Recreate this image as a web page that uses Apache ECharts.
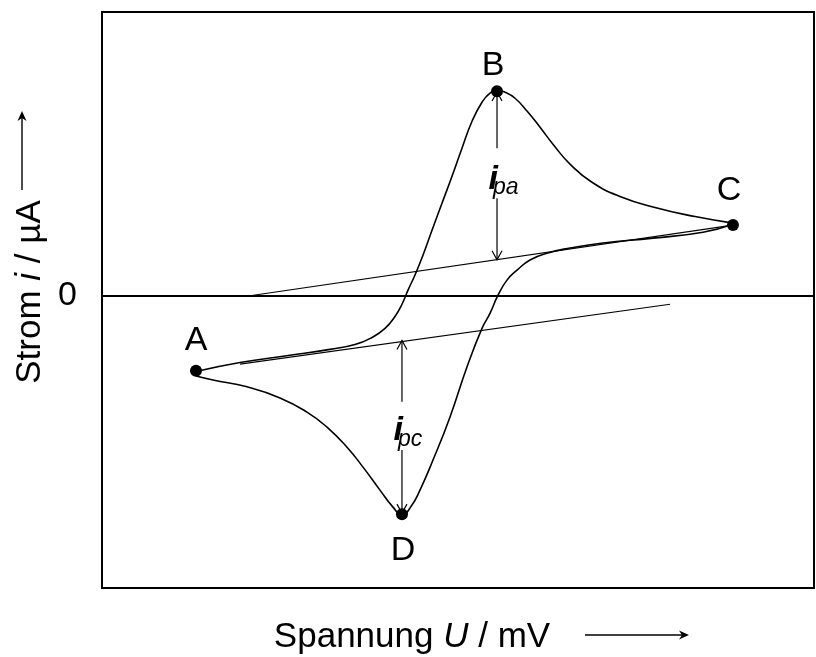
<!DOCTYPE html>
<html>
<head>
<meta charset="utf-8">
<script src="https://cdn.jsdelivr.net/npm/echarts@6/dist/echarts.min.js"></script>
<style>
  html, body { margin: 0; padding: 0; background: #fff; }
  #chart { width: 816px; height: 657px; }
</style>
</head>
<body>
<div id="chart"></div>
<script>
// Cyclic voltammogram: forward (anodic) scan A -> B -> C, reverse (cathodic) scan C -> D -> A
const fwdU = [132.0, 193.8, 264.0, 320.2, 355.3, 379.2, 397.5, 411.5, 421.3, 429.8, 439.6, 450.8, 463.5, 477.5, 491.6, 505.6, 519.7, 533.7, 544.9, 554.8, 566.0, 580.1, 596.9, 615.2, 633.4, 657.3, 688.2, 727.5, 776.7, 832.9, 886.2];
const fwdI = [-26.7, -23.5, -21.0, -18.9, -17.2, -14.7, -11.5, -7.3, -3.0, 2.0, 7.3, 14.3, 23.1, 32.6, 42.1, 52.0, 61.5, 68.2, 71.4, 72.4, 71.7, 69.6, 65.1, 59.4, 53.4, 46.4, 40.0, 35.0, 31.1, 27.9, 25.6];

const revU = [886.2, 844.1, 773.9, 703.7, 657.3, 625.0, 601.1, 582.9, 568.8, 556.2, 544.9, 533.7, 512.6, 488.8, 464.9, 446.6, 434.0, 421.3, 408.7, 390.4, 366.6, 344.1, 316.0, 287.9, 250.0, 203.7, 155.9, 132.0];
const revI = [25.2, 22.4, 20.3, 18.6, 16.8, 15.0, 12.6, 9.0, 5.5, 0.2, -6.2, -11.5, -25.1, -42.7, -57.9, -68.5, -74.3, -77.3, -74.5, -68.5, -60.4, -53.4, -46.3, -41.0, -36.0, -32.1, -29.7, -28.3];

// Marked points
const pointNames = ['A', 'B', 'C', 'D'];
const pointU = [132.0, 554.8, 886.2, 421.3];
const pointI = [-26.4, 72.1, 24.9, -77.0];

// Extrapolated baselines for the two peaks
const baseAnodicU = [207.9, 886.2];
const baseAnodicI = [0.0, 24.9];
const baseCathodicU = [193.8, 797.8];
const baseCathodicI = [-24.1, -3.0];

// Peak current arrows: position, ends, label gap
const peakNames = ['pa', 'pc'];
const peakU = [554.8, 421.3];
const peakTop = [71.8, -15.8];
const peakBottom = [12.7, -76.6];
const peakGapTop = [52.0, -37.4];
const peakGapBottom = [34.4, -54.4];

const zeroTicks = [0];

const FONT = '"Liberation Sans", Arial, Helvetica, sans-serif';
const FS = 34;
const TITLE_FS = 35;

const zip = (a, b) => a.map((v, i) => [v, b[i]]);

const chart = echarts.init(document.getElementById('chart'), null, { renderer: 'canvas' });

const curveStyle = { color: '#000', width: 1.6 };
const thinStyle = { color: '#000', width: 1.1 };

const option = {
  animation: false,
  backgroundColor: '#fff',
  grid: {
    left: 102, top: 12, width: 712, height: 576,
    show: true, borderColor: '#000', borderWidth: 2, backgroundColor: 'transparent'
  },
  xAxis: {
    type: 'value', min: 0, max: 1000,
    axisLine: { show: false }, axisTick: { show: false },
    axisLabel: { show: false }, splitLine: { show: false }
  },
  yAxis: {
    type: 'value', min: -103, max: 100,
    axisLine: { show: false }, axisTick: { show: false },
    axisLabel: { show: false }, splitLine: { show: false }
  },
  series: [
    {
      name: 'forward', type: 'line', data: zip(fwdU, fwdI),
      smooth: 0.5, showSymbol: false, lineStyle: curveStyle, silent: true,
      markLine: {
        silent: true, symbol: ['none', 'none'],
        lineStyle: { color: '#000', width: 2, type: 'solid' },
        label: {
          show: true, position: 'start', distance: 25,
          formatter: p => String(p.value),
          fontFamily: FONT, fontSize: FS, color: '#000'
        },
        data: zeroTicks.map(v => ({ yAxis: v }))
      }
    },
    {
      name: 'reverse', type: 'line', data: zip(revU, revI),
      smooth: 0.5, showSymbol: false, lineStyle: curveStyle, silent: true
    },
    {
      name: 'baseAnodic', type: 'line', data: zip(baseAnodicU, baseAnodicI),
      showSymbol: false, lineStyle: thinStyle, silent: true
    },
    {
      name: 'baseCathodic', type: 'line', data: zip(baseCathodicU, baseCathodicI),
      showSymbol: false, lineStyle: thinStyle, silent: true
    },
    {
      name: 'points', type: 'scatter', symbolSize: 12, z: 5,
      itemStyle: { color: '#000', opacity: 1 },
      label: {
        show: true, position: 'inside', color: '#000',
        fontFamily: FONT, fontSize: FS,
        formatter: p => p.data.name
      },
      data: pointNames.map((n, i) => {
        const offsets = { A: [0, -30], B: [-4, -26], C: [-4, -34], D: [1, 36] };
        return { name: n, value: [pointU[i], pointI[i]], label: { offset: offsets[n] } };
      })
    },
    {
      name: 'peakArrows', type: 'custom', silent: true, z: 4,
      data: peakNames.map((n, i) => [peakU[i], peakTop[i], peakBottom[i], peakGapTop[i], peakGapBottom[i]]),
      renderItem: (params, api) => {
        const x = api.coord([api.value(0), 0])[0];
        const yT = api.coord([0, api.value(1)])[1];
        const yB = api.coord([0, api.value(2)])[1];
        const gT = api.coord([0, api.value(3)])[1];
        const gB = api.coord([0, api.value(4)])[1];
        const sub = peakNames[params.dataIndex];
        const ls = { stroke: '#000', lineWidth: 1.2, fill: null };
        const h = 9, w = 5;
        return {
          type: 'group',
          children: [
            { type: 'line', shape: { x1: x, y1: yT, x2: x, y2: gT }, style: ls },
            { type: 'line', shape: { x1: x, y1: gB, x2: x, y2: yB }, style: ls },
            { type: 'polyline', shape: { points: [[x - w, yT + h], [x, yT], [x + w, yT + h]] }, style: ls },
            { type: 'polyline', shape: { points: [[x - w, yB - h], [x, yB], [x + w, yB - h]] }, style: ls },
            {
              type: 'text', x: x + 1, y: gB - 2,
              style: {
                text: 'i', fill: '#000', align: 'right', verticalAlign: 'bottom',
                font: 'italic bold 34px ' + FONT
              }
            },
            {
              type: 'text', x: x - 4, y: gB + 1,
              style: {
                text: sub, fill: '#000', align: 'left', verticalAlign: 'bottom',
                font: 'italic 23px ' + FONT
              }
            }
          ]
        };
      }
    }
  ],
  graphic: [
    {
      type: 'text', x: 412, y: 637,
      style: {
        text: 'Spannung {u|U} / mV', fill: '#000', align: 'center', verticalAlign: 'middle',
        font: TITLE_FS + 'px ' + FONT,
        rich: { u: { fontStyle: 'italic', fontSize: TITLE_FS, fontFamily: FONT, fill: '#000' } }
      }
    },
    { type: 'line', shape: { x1: 585, y1: 635, x2: 686, y2: 635 }, style: { stroke: '#000', lineWidth: 1.4 } },
    { type: 'polygon', shape: { points: [[689, 635], [679, 630.5], [682, 635], [679, 639.5]] }, style: { fill: '#000' } },
    {
      type: 'text', x: 30, y: 292, rotation: Math.PI / 2,
      style: {
        text: 'Strom {i|i} / µA', fill: '#000', align: 'center', verticalAlign: 'middle',
        font: TITLE_FS + 'px ' + FONT,
        rich: { i: { fontStyle: 'italic', fontSize: TITLE_FS, fontFamily: FONT, fill: '#000' } }
      }
    },
    { type: 'line', shape: { x1: 22, y1: 190, x2: 22, y2: 114 }, style: { stroke: '#000', lineWidth: 1.4 } },
    { type: 'polygon', shape: { points: [[22, 111], [17.5, 121], [22, 118], [26.5, 121]] }, style: { fill: '#000' } }
  ]
};

chart.setOption(option);
</script>
</body>
</html>
